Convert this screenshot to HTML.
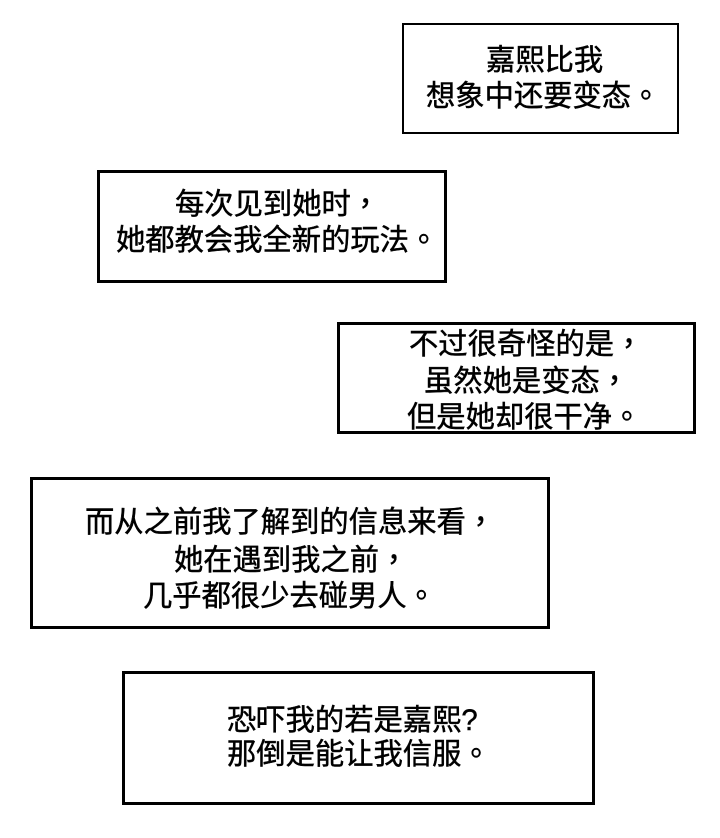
<!DOCTYPE html>
<html>
<head>
<meta charset="utf-8">
<style>
  html, body { margin:0; padding:0; background:#fff; }
  body { width:720px; height:838px; position:relative; overflow:hidden; }
  .box { position:absolute; box-sizing:border-box; border:3px solid #000; background:#fff; }
  .t { position:absolute; white-space:nowrap; font-family:"Liberation Sans","Noto Sans CJK SC","WenQuanYi Zen Hei",sans-serif; font-size:29.3px; line-height:36px; height:36px; color:#000; -webkit-text-stroke:0.45px #000; }
  .p { font-family:"Noto Sans CJK TC","Noto Sans CJK SC",sans-serif; line-height:0; }
</style>
</head>
<body>
  <div class="box" style="left:402px;top:23px;width:277px;height:111px;border-width:2.5px;"></div>
  <div class="t" style="left:486px;top:43px;">嘉熙比我</div>
  <div class="t" style="left:426px;top:79px;">想象中还要变态<span class="p">。</span></div>

  <div class="box" style="left:97px;top:170px;width:350px;height:113px;"></div>
  <div class="t" style="left:175px;top:187px;">每次见到她时<span class="p">，</span></div>
  <div class="t" style="left:116px;top:223px;">她都教会我全新的玩法<span class="p">。</span></div>

  <div class="box" style="left:337px;top:322px;width:359px;height:112px;"></div>
  <div class="t" style="left:409px;top:327px;">不过很奇怪的是<span class="p">，</span></div>
  <div class="t" style="left:424px;top:364px;">虽然她是变态<span class="p">，</span></div>
  <div class="t" style="left:407px;top:400px;">但是她却很干净<span class="p">。</span></div>

  <div class="box" style="left:30px;top:477px;width:520px;height:152px;"></div>
  <div class="t" style="left:85px;top:505px;">而从之前我了解到的信息来看<span class="p">，</span></div>
  <div class="t" style="left:174px;top:543px;">她在遇到我之前<span class="p">，</span></div>
  <div class="t" style="left:143px;top:579px;">几乎都很少去碰男人<span class="p">。</span></div>

  <div class="box" style="left:122px;top:671px;width:473px;height:134px;"></div>
  <div class="t" style="left:227px;top:703px;">恐吓我的若是嘉熙?</div>
  <div class="t" style="left:227px;top:737px;">那倒是能让我信服<span class="p">。</span></div>
</body>
</html>
